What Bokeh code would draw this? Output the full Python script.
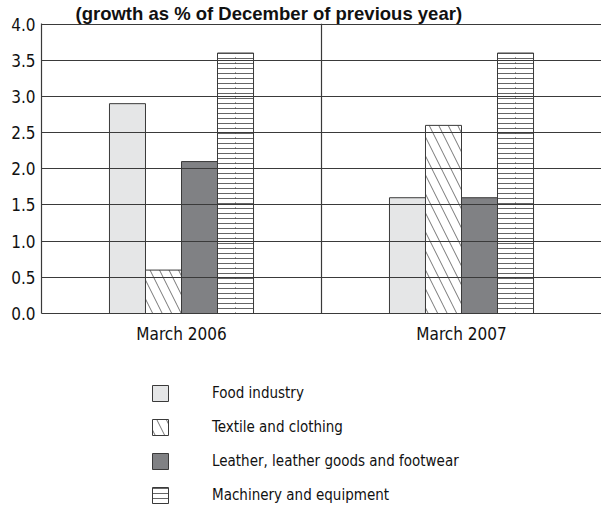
from bokeh.plotting import figure
from bokeh.layouts import column
from bokeh.models import (ColumnDataSource, FactorRange, Legend, LegendItem, Span, Title,
                          FixedTicker, NumeralTickFormatter, Range1d)
from bokeh.transform import dodge
from bokeh.embed import file_html
from bokeh.resources import INLINE

# ---- data ----
periods = ["March 2006", "March 2007"]
food = [2.9, 1.6]
textile = [0.6, 2.6]
leather = [2.1, 1.6]
machinery = [3.6, 3.6]
series_names = ["Food industry", "Textile and clothing",
                "Leather, leather goods and footwear", "Machinery and equipment"]
y_ticks = [0.0, 0.5, 1.0, 1.5, 2.0, 2.5, 3.0, 3.5, 4.0]
title_text = "(growth as % of December of previous year)"

FONT = "'Liberation Sans Narrow', 'Arial Narrow', 'DejaVu Sans Condensed', sans-serif"
LINE = "#3a3a3a"

src = ColumnDataSource(dict(period=periods, food=food, textile=textile,
                            leather=leather, machinery=machinery))

bw = 0.1286
offs = [-1.5 * bw, -0.5 * bw, 0.5 * bw, 1.5 * bw]
styles = [
    dict(fill_color="#e5e6e7"),
    dict(fill_color="white", hatch_pattern="\\", hatch_scale=19,
         hatch_color="#666666", hatch_weight=0.9),
    dict(fill_color="#808184"),
    dict(fill_color="white", hatch_pattern="-", hatch_scale=5,
         hatch_color="#555555", hatch_weight=0.9),
]
cols = ["food", "textile", "leather", "machinery"]


def add_bars(fig):
    rs = []
    for off, col, st in zip(offs, cols, styles):
        rs.append(fig.vbar(x=dodge("period", off, range=fig.x_range), top=col, width=bw,
                           source=src, line_color=LINE, line_width=1, **st))
    fig.segment(x0=dodge("period", offs[3], range=fig.x_range), y0=0,
                x1=dodge("period", offs[3], range=fig.x_range), y1="machinery",
                source=src, line_color="#444444", line_width=1, line_dash="1 4")
    return rs


# ---- main chart ----
p = figure(x_range=FactorRange(*periods, range_padding=0), y_range=Range1d(0, 4.008),
           width=601, height=354, output_backend="svg", toolbar_location=None,
           min_border_left=41, min_border_right=0, min_border_top=0,
           min_border_bottom=41)
p.outline_line_color = None
p.border_fill_color = "white"
add_bars(p)

p.add_layout(Title(text=title_text, align="left", offset=34, standoff=0,
                   text_font="Liberation Sans", text_font_style="bold",
                   text_font_size="18.5px", text_color="#111111"), "above")

p.add_layout(Span(location=1, dimension="height", line_color=LINE, line_width=1.2))

p.xgrid.grid_line_color = None
p.ygrid.ticker = FixedTicker(ticks=y_ticks)
p.ygrid.grid_line_color = LINE
p.ygrid.grid_line_width = 1.1
p.ygrid.level = "overlay"

p.yaxis.ticker = FixedTicker(ticks=y_ticks)
p.yaxis.formatter = NumeralTickFormatter(format="0.0")
for ax in (p.xaxis[0], p.yaxis[0]):
    ax.axis_line_color = LINE
    ax.axis_line_width = 1.2
    ax.major_tick_line_color = None
    ax.minor_tick_line_color = None
    ax.major_tick_out = 0
    ax.major_tick_in = 0
    ax.major_label_text_font = FONT
    ax.major_label_text_font_size = "17px"
    ax.major_label_text_color = "#111111"
p.yaxis.major_label_standoff = 6
p.xaxis.major_label_standoff = 10

# ---- legend panel ----
lf = figure(x_range=FactorRange(*periods, range_padding=0), y_range=Range1d(100, 101),
            width=601, height=151, output_backend="svg", toolbar_location=None,
            min_border_left=0, min_border_right=0, min_border_top=0, min_border_bottom=0)
lf.axis.visible = False
lf.grid.visible = False
lf.outline_line_color = None
lrs = add_bars(lf)
legend = Legend(items=[LegendItem(label=n, renderers=[r]) for n, r in zip(series_names, lrs)],
                location=(109, 0), orientation="vertical",
                glyph_width=20, glyph_height=20, label_height=20, spacing=14,
                label_standoff=42, padding=0, margin=0,
                border_line_color=None, background_fill_alpha=0,
                label_text_font=FONT, label_text_font_size="15px",
                label_text_color="#111111")
lf.add_layout(legend, "center")

layout = column(p, lf, spacing=0)
open("out.html", "w").write(file_html(layout, INLINE))
